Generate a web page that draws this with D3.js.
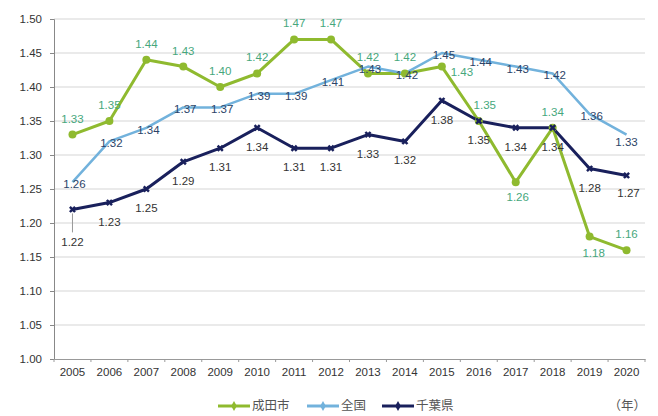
<!DOCTYPE html>
<html lang="ja">
<head>
    <meta charset="UTF-8">
    <title>合計特殊出生率の推移</title>
    <style>
        body { margin: 0; background: #fff; }
        text { font-family: "Liberation Sans", Arial, sans-serif; }
        .tick text { font-size: 11.5px; fill: #333; }
        .legend text, .unit { font-family: "Noto Sans CJK JP", sans-serif; font-size: 12.5px; fill: #555; }
    </style>
</head>
<body>
    <svg width="658" height="416"></svg>

    <script src="https://d3js.org/d3.v7.min.js"></script>
    <script>

        // Years and series values
        const years = ['2005', '2006', '2007', '2008', '2009', '2010', '2011', '2012',
                       '2013', '2014', '2015', '2016', '2017', '2018', '2019', '2020'];
        const narita = [1.33, 1.35, 1.44, 1.43, 1.40, 1.42, 1.47, 1.47,
                        1.42, 1.42, 1.43, 1.35, 1.26, 1.34, 1.18, 1.16];
        const zenkoku = [1.26, 1.32, 1.34, 1.37, 1.37, 1.39, 1.39, 1.41,
                         1.43, 1.42, 1.45, 1.44, 1.43, 1.42, 1.36, 1.33];
        const chiba = [1.22, 1.23, 1.25, 1.29, 1.31, 1.34, 1.31, 1.31,
                       1.33, 1.32, 1.38, 1.35, 1.34, 1.34, 1.28, 1.27];
        const yTicks = [1.00, 1.05, 1.10, 1.15, 1.20, 1.25, 1.30, 1.35, 1.40, 1.45, 1.50];

        const series = [
            { name: '成田市', values: narita, color: '#8fba2f', labelColor: '#46a77c', marker: 'circle', width: 3 },
            { name: '全国', values: zenkoku, color: '#72b2dc', labelColor: '#2c4468', marker: 'none', width: 2.5 },
            { name: '千葉県', values: chiba, color: '#19205c', labelColor: '#333', marker: 'cross', width: 3 }
        ];

        // label offsets (dx, dy) per series, default and a few tweaks
        const labelDefault = [[0, -16], [2, 2], [0, 19]];
        const labelTweak = {
            '0-10': [20, 5], '0-11': [6, -16], '0-12': [2, 15], '0-14': [4, 16],
            '1-15': [0, 7],
            '2-0': [0, 33], '2-15': [2, 18]
        };

        const svg = d3.select('svg');
        const margin = { left: 54, right: 13, top: 19, bottom: 57 };
        const innerWidth = +svg.attr('width') - margin.left - margin.right;
        const innerHeight = +svg.attr('height') - margin.top - margin.bottom;

        const x = d3.scaleBand().domain(years).range([0, innerWidth]);
        const y = d3.scaleLinear().domain([1.0, 1.5]).range([innerHeight, 0]);

        const g = svg.append('g')
            .attr('transform', 'translate(' + margin.left + ',' + margin.top + ')');

        // gridlines
        g.selectAll('.grid')
            .data(yTicks.slice(1))
            .enter()
            .append('line')
            .attr('x1', 0)
            .attr('x2', innerWidth)
            .attr('y1', function (d) { return y(d); })
            .attr('y2', function (d) { return y(d); })
            .attr('stroke', '#e3e3e3')
            .attr('stroke-width', 1.5);

        // y axis
        const yAxis = g.append('g')
            .call(d3.axisLeft(y).tickValues(yTicks).tickFormat(d3.format('.2f')).tickSize(4).tickPadding(8));
        yAxis.select('.domain').attr('stroke', '#888');
        yAxis.selectAll('.tick line').attr('stroke', '#888');
        yAxis.selectAll('.tick text').attr('font-size', '12px');

        // x axis
        const xAxis = g.append('g')
            .attr('transform', 'translate(0,' + innerHeight + ')')
            .call(d3.axisBottom(x).tickSize(0).tickPadding(9));
        xAxis.select('.domain').attr('stroke', '#999');
        xAxis.selectAll('.tick text').attr('font-size', '12px');

        g.selectAll('.xtick')
            .data(years)
            .enter()
            .append('line')
            .attr('x1', function (d) { return x(d); })
            .attr('x2', function (d) { return x(d); })
            .attr('y1', innerHeight)
            .attr('y2', innerHeight + 3)
            .attr('stroke', '#999');
        g.append('line')
            .attr('x1', innerWidth).attr('x2', innerWidth)
            .attr('y1', innerHeight).attr('y2', innerHeight + 3)
            .attr('stroke', '#999');

        const cx = function (i) { return x(years[i]) + x.bandwidth() / 2; };

        const line = d3.line()
            .x(function (d, i) { return cx(i); })
            .y(function (d) { return y(d); });

        // leader line for 2005 千葉県 label
        g.append('line')
            .attr('x1', cx(0)).attr('x2', cx(0))
            .attr('y1', y(chiba[0]) + 4).attr('y2', y(chiba[0]) + 23)
            .attr('stroke', '#999');

        series.forEach(function (s) {
            g.append('path')
                .datum(s.values)
                .attr('fill', 'none')
                .attr('stroke', s.color)
                .attr('stroke-width', s.width)
                .attr('stroke-linejoin', 'round')
                .attr('d', line);
        });

        series.forEach(function (s) {
            if (s.marker === 'circle') {
                g.selectAll(null)
                    .data(s.values)
                    .enter()
                    .append('circle')
                    .attr('cx', function (d, i) { return cx(i); })
                    .attr('cy', function (d) { return y(d); })
                    .attr('r', 4)
                    .attr('fill', s.color);
            } else if (s.marker === 'cross') {
                g.selectAll(null)
                    .data(s.values)
                    .enter()
                    .append('path')
                    .attr('transform', function (d, i) { return 'translate(' + cx(i) + ',' + y(d) + ') rotate(45)'; })
                    .attr('d', d3.symbol(d3.symbolCross, 30))
                    .attr('fill', s.color);
            }
        });

        // data labels
        series.forEach(function (s, si) {
            g.selectAll(null)
                .data(s.values)
                .enter()
                .append('text')
                .attr('x', function (d, i) {
                    const off = labelTweak[si + '-' + i] || labelDefault[si];
                    return cx(i) + off[0];
                })
                .attr('y', function (d, i) {
                    const off = labelTweak[si + '-' + i] || labelDefault[si];
                    return y(d) + off[1];
                })
                .attr('dy', '0.35em')
                .attr('text-anchor', 'middle')
                .attr('font-size', '11.5px')
                .attr('fill', s.labelColor)
                .text(function (d) { return d3.format('.2f')(d); });
        });

        // legend
        const legend = svg.append('g').attr('class', 'legend')
            .attr('transform', 'translate(218,406)');
        const legendX = [0, 89, 164];
        series.forEach(function (s, i) {
            const lg = legend.append('g').attr('transform', 'translate(' + legendX[i] + ',0)');
            lg.append('line')
                .attr('x1', 0).attr('x2', 32)
                .attr('y1', 0).attr('y2', 0)
                .attr('stroke', s.color)
                .attr('stroke-width', 3);
            lg.append('path')
                .attr('transform', 'translate(16,0)')
                .attr('d', d3.symbol(d3.symbolDiamond, 28))
                .attr('fill', s.color);
            lg.append('text')
                .attr('x', 34)
                .attr('y', 0)
                .attr('dy', '0.35em')
                .text(s.name);
        });

        svg.append('text')
            .attr('class', 'unit')
            .attr('x', 646)
            .attr('y', 406)
            .attr('dy', '0.35em')
            .attr('text-anchor', 'end')
            .text('（年）');

    </script>
</body>
</html>
